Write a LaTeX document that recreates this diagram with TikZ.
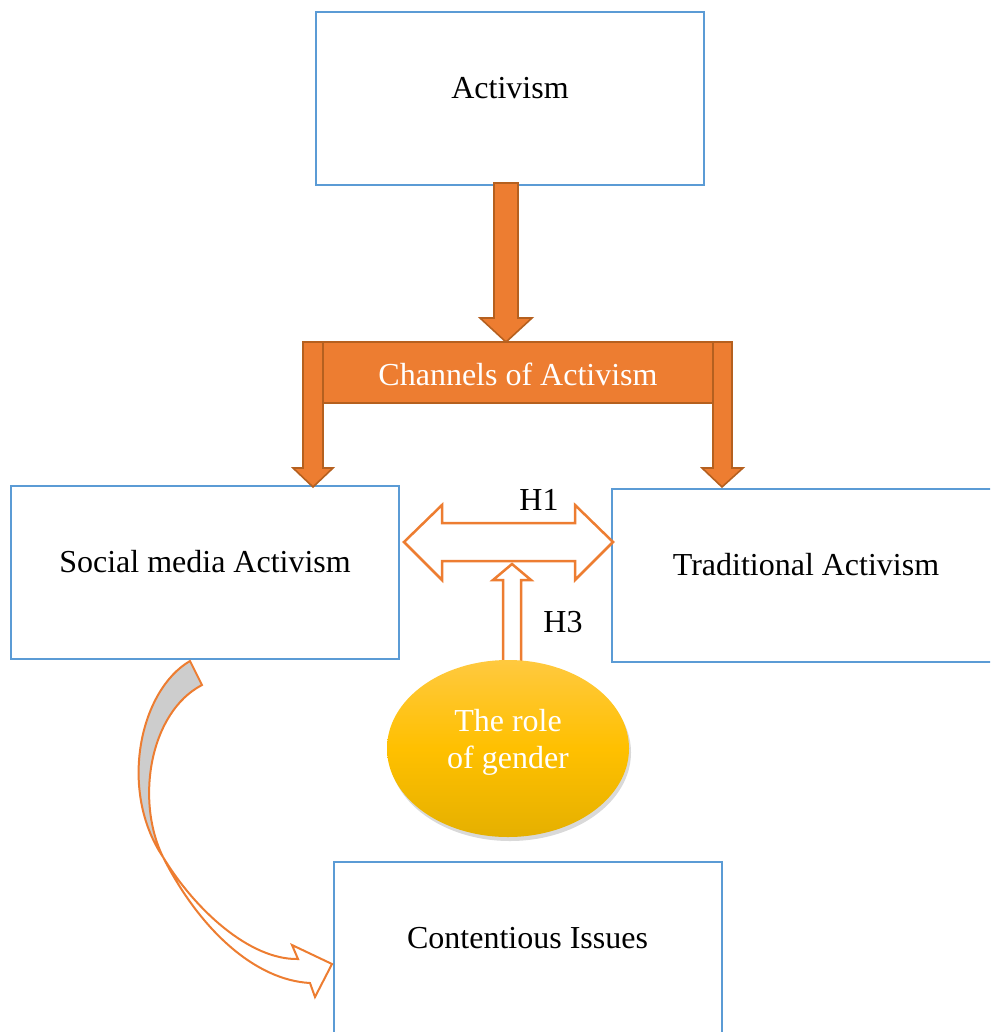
\documentclass[tikz,border=0pt]{standalone}
\usepackage{fontspec}
\setmainfont{Liberation Serif}
\usetikzlibrary{shadows,shapes.geometric}
\definecolor{boxblue}{HTML}{5B9BD5}
\definecolor{orng}{HTML}{ED7D31}
\definecolor{orngdark}{HTML}{B5601F}
\definecolor{ytop}{HTML}{FFC93F}
\definecolor{ymid}{HTML}{FFC000}
\definecolor{ybot}{HTML}{E5B000}
\definecolor{grayfill}{HTML}{CDCDCD}
\begin{document}
\begin{tikzpicture}[x=0.5pt,y=-0.5pt,
  box/.style={draw=boxblue,line width=1pt,fill=white,minimum width=194pt,minimum height=86.5pt,inner sep=0pt,text height=10pt,text depth=10pt,font=\fontsize{16}{19}\selectfont},
  solidarrow/.style={fill=orng,draw=orngdark,line width=0.8pt,line join=miter},
  hollowarrow/.style={fill=white,draw=orng,line width=1.25pt,line join=miter},
  lbl/.style={font=\fontsize{16}{19}\selectfont,inner sep=0pt}]
\useasboundingbox (0,0) rectangle (990,1032);
\clip (0,0) rectangle (990,1032);
% boxes
\node[box] (act) at (510,98.5) {Activism};
\node[box] (soc) at (205,572.5) {Social media Activism};
\node[box] (trad) at (806,575) {Traditional Activism};
\node[box] (cont) at (527.5,948.5) {Contentious Issues};
% down arrow
\draw[solidarrow] (494,183) -- (518,183) -- (518,318) -- (532,318) -- (506,342) -- (480,318) -- (494,318) -- cycle;
% bracket
\draw[solidarrow] (303,342) -- (732,342) -- (732,468) -- (743,468) -- (722,487) -- (702,468) -- (713,468) -- (713,403) -- (323,403) -- (323,468) -- (333,468) -- (313,487) -- (293,468) -- (303,468) -- cycle;
\draw[orngdark,line width=0.8pt] (323,342) -- (323,403) (713,342) -- (713,403);
\node[lbl,text=white] (chan) at (518,374) {Channels of Activism};
% double arrow H1
\draw[hollowarrow] (404,542) -- (442,505) -- (442,523) -- (575,523) -- (575,505) -- (613,542) -- (575,580) -- (575,561) -- (442,561) -- (442,580) -- cycle;
\node[lbl] (h1) at (539,500) {H1};
% up arrow H3
\draw[hollowarrow] (503,665) -- (503,580) -- (493,580) -- (512,564) -- (531,580) -- (521,580) -- (521,665) -- cycle;
\node[lbl] (h3) at (563,622) {H3};
% ellipse
\node[ellipse,minimum width=121pt,minimum height=88.5pt,inner sep=0pt,
  top color=ytop,bottom color=ybot,middle color=ymid,
  drop shadow={opacity=0.3,shadow xshift=1pt,shadow yshift=-2pt}] (gen) at (508,748.5) {};
\node[text=white,align=center,inner sep=0pt,font=\fontsize{16}{18.5}\selectfont] (gentxt) at (508,742) {The role\\of gender};
% curved arrow
\coordinate (cr) at (163,857);
\draw[fill=grayfill,draw=orng,line width=1pt,line join=miter] (190,661) .. controls (140,690) and (118,790) .. (cr) .. controls (135,800) and (150,712) .. (202,685) -- cycle;
\draw[fill=white,draw=orng,line width=1pt,line join=miter] (cr) .. controls (195,910) and (250,960) .. (298,959) -- (292,945) -- (332,964) -- (315,997) -- (310,983) .. controls (255,980) and (200,930) .. (cr) -- cycle;
\end{tikzpicture}
\end{document}
